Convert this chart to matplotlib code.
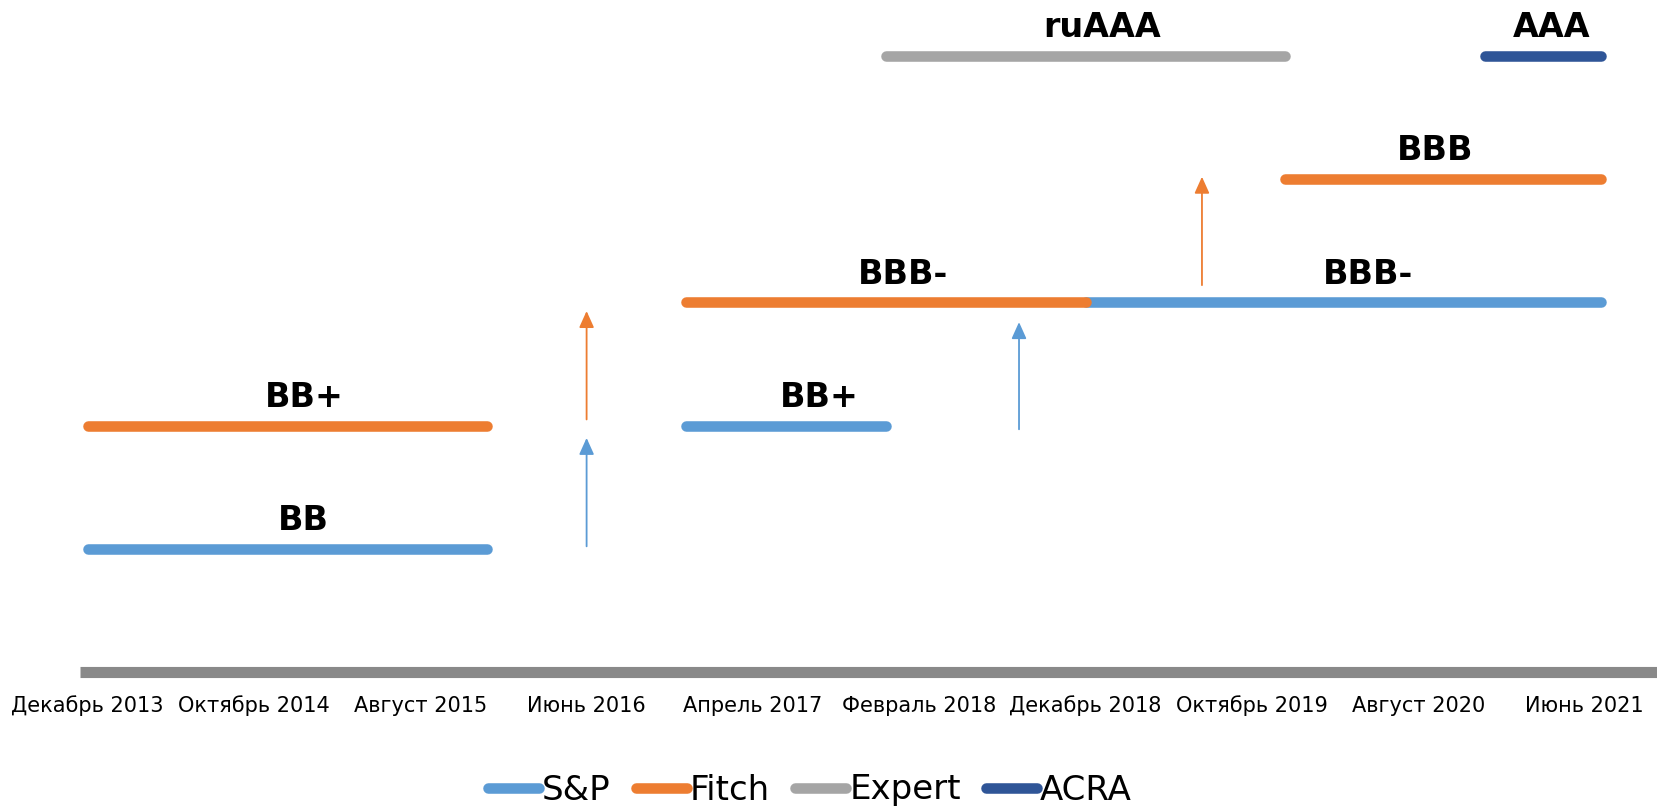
import matplotlib
matplotlib.use("Agg")
import matplotlib.pyplot as plt
from matplotlib.lines import Line2D

# ---------------- data ----------------
rating_levels = {"BB": 1, "BB+": 2, "BBB-": 3, "BBB": 4, "ruAAA": 5, "AAA": 5}

sp_start = ["2013-12", "2016-12", "2018-12"]
sp_end = ["2015-12", "2017-12", "2021-07"]
sp_rating = ["BB", "BB+", "BBB-"]
sp_label_x = ["2015-01", "2017-08", "2020-05"]

fitch_start = ["2013-12", "2016-12", "2019-12"]
fitch_end = ["2015-12", "2018-12", "2021-07"]
fitch_rating = ["BB+", "BBB-", "BBB"]
fitch_label_x = ["2015-01", "2018-01", "2020-09"]

expert_start = ["2017-12"]
expert_end = ["2019-12"]
expert_rating = ["ruAAA"]
expert_label_x = ["2019-01"]

acra_start = ["2020-12"]
acra_end = ["2021-07"]
acra_rating = ["AAA"]
acra_label_x = ["2021-04"]

# upgrade arrows: month, from level, to level
sp_arrow_month = ["2016-06", "2018-08"]
sp_arrow_from = [1.02, 1.97]
sp_arrow_to = [1.90, 2.84]
fitch_arrow_month = ["2016-06", "2019-07"]
fitch_arrow_from = [2.05, 3.14]
fitch_arrow_to = [2.93, 4.02]

tick_months = ["2013-12", "2014-10", "2015-08", "2016-06", "2017-04",
               "2018-02", "2018-12", "2019-10", "2020-08", "2021-06"]
tick_labels = ["Декабрь 2013", "Октябрь 2014", "Август 2015", "Июнь 2016",
               "Апрель 2017", "Февраль 2018", "Декабрь 2018", "Октябрь 2019",
               "Август 2020", "Июнь 2021"]

agencies = ["S&P", "Fitch", "Expert", "ACRA"]
colors = {"S&P": "#5B9BD5", "Fitch": "#ED7D31", "Expert": "#A5A5A5", "ACRA": "#2F5597"}


def m(s):
    y, mo = s.split("-")
    return (int(y) - 2013) * 12 + int(mo) - 12


# ---------------- figure ----------------
W, H = 1657, 809
fig = plt.figure(figsize=(W / 100, H / 100), dpi=100)
ax = fig.add_axes([80 / W, (H - 672) / H, (W - 80) / W, 672 / H])
ax.set_xlim(-0.46, 94.36)
ax.set_ylim(0, 672 / 123.2)
for s in ax.spines.values():
    s.set_visible(False)
ax.set_yticks([])

LW = 7.6
series = [
    ("S&P", sp_start, sp_end, sp_rating, sp_label_x),
    ("Expert", expert_start, expert_end, expert_rating, expert_label_x),
    ("ACRA", acra_start, acra_end, acra_rating, acra_label_x),
    ("Fitch", fitch_start, fitch_end, fitch_rating, fitch_label_x),
]
for name, starts, ends, ratings, lx in series:
    for a, b, r, xl in zip(starts, ends, ratings, lx):
        lvl = rating_levels[r]
        ax.plot([m(a), m(b)], [lvl, lvl], color=colors[name], lw=LW,
                solid_capstyle="round", zorder=3 if name == "Fitch" else 2)
        ax.text(m(xl), lvl + 0.23, r, ha="center", va="center",
                fontsize=24, fontweight="bold", color="black",
                family="DejaVu Sans", zorder=5)

for name, months, fr, to in [("S&P", sp_arrow_month, sp_arrow_from, sp_arrow_to),
                             ("Fitch", fitch_arrow_month, fitch_arrow_from, fitch_arrow_to)]:
    for mo, a, b in zip(months, fr, to):
        ax.annotate("", xy=(m(mo), b), xytext=(m(mo), a),
                    arrowprops=dict(arrowstyle="-|>,head_length=1.0,head_width=0.45",
                                    color=colors[name], lw=1.3,
                                    shrinkA=0, shrinkB=0))

# axis line
ax.axhline(0, color="#898989", lw=8, solid_capstyle="butt", zorder=1, clip_on=False)

ax.set_xticks([m(t) for t in tick_months])
ax.set_xticklabels(tick_labels, fontsize=15, family="DejaVu Sans")
ax.tick_params(axis="x", length=0, pad=17)

handles = [Line2D([0], [0], color=colors[a], lw=LW, solid_capstyle="round") for a in agencies]
fig.legend(handles, agencies, loc="center", bbox_to_anchor=(810 / W, 19 / H),
           ncol=4, frameon=False, fontsize=24.5, handlelength=1.5,
           handletextpad=0.08, columnspacing=0.75)

fig.savefig("out.png", dpi=100)
